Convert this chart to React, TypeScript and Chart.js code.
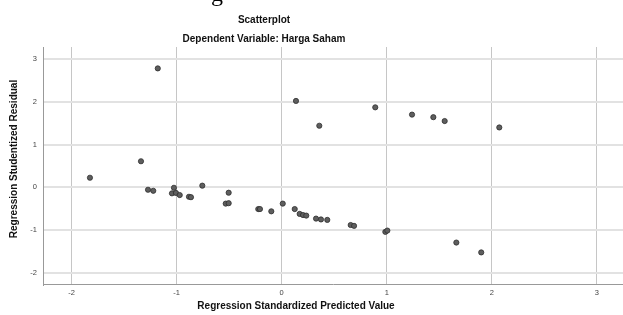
import React, { useEffect, useRef } from "react";
import { Chart, registerables } from "chart.js";

Chart.register(...registerables);

const predicted = [
  -1.826, -1.34, -1.273, -1.223, -1.18, -1.045, -1.026, -1.007, -0.971, -0.883,
  -0.864, -0.756, -0.533, -0.505, -0.505, -0.223, -0.207, -0.099, 0.01, 0.124,
  0.136, 0.171, 0.203, 0.234, 0.327, 0.358, 0.374, 0.434, 0.657, 0.689,
  0.891, 0.987, 1.006, 1.241, 1.444, 1.552, 1.663, 1.9, 2.072,
];
const residual = [
  0.225, 0.61, -0.056, -0.08, 2.78, -0.14, -0.01, -0.13, -0.18, -0.22,
  -0.23, 0.04, -0.38, -0.37, -0.125, -0.507, -0.507, -0.56, -0.38, -0.507,
  2.02, -0.62, -0.647, -0.66, -0.73, 1.44, -0.75, -0.76, -0.88, -0.9,
  1.87, -1.04, -1.01, 1.7, 1.64, 1.55, -1.29, -1.52, 1.4,
];
const xTicks = [-2, -1, 0, 1, 2, 3];
const yTicks = [-2, -1, 0, 1, 2, 3];
const xRange = [-2.273, 3.25];
const yRange = [-2.27, 3.28];

const titleText = "Scatterplot";
const subtitleText = "Dependent Variable: Harga Saham";
const xTitle = "Regression Standardized Predicted Value";
const yTitle = "Regression Studentized Residual";
const croppedGlyph = "g";

const FONT = "'Liberation Sans', Arial, sans-serif";

export default function App() {
  const ref = useRef<HTMLCanvasElement>(null);

  useEffect(() => {
    document.body.style.margin = "0";
    const canvas = ref.current;
    if (!canvas) return;

    const titlesPlugin = {
      id: "titles",
      afterDraw(chart: any) {
        const ctx = chart.ctx;
        ctx.save();
        ctx.fillStyle = "#111";
        ctx.textAlign = "center";
        ctx.textBaseline = "middle";
        ctx.font = `bold 10px ${FONT}`;
        ctx.fillText(titleText, 264, 20);
        ctx.fillText(subtitleText, 264, 39.5);
        ctx.fillText(xTitle, 296, 306);
        ctx.save();
        ctx.translate(14, 159);
        ctx.rotate(-Math.PI / 2);
        ctx.fillText(yTitle, 0, 0);
        ctx.restore();
        ctx.fillStyle = "#000";
        ctx.textBaseline = "alphabetic";
        ctx.font = "24px 'Liberation Serif', 'Times New Roman', serif";
        ctx.fillText(croppedGlyph, 217, 0.5);
        ctx.restore();
      },
    };

    const data = predicted.map((x, i) => ({ x, y: residual[i] }));

    const chart = new Chart(canvas, {
      type: "scatter",
      data: {
        datasets: [
          {
            data,
            pointRadius: 2.6,
            pointBackgroundColor: "#5e5e5e",
            pointBorderColor: "#2e2e2e",
            pointBorderWidth: 0.8,
          },
        ],
      },
      options: {
        responsive: false,
        animation: false,
        layout: { padding: { top: 47, left: 0, right: 0, bottom: 0 }, autoPadding: false },
        plugins: {
          legend: { display: false },
          tooltip: { enabled: false },
          title: { display: false },
        },
        scales: {
          x: {
            type: "linear",
            min: xRange[0],
            max: xRange[1],
            afterBuildTicks: (s: any) => {
              s.ticks = xTicks.map((v) => ({ value: v }));
            },
            afterFit: (s: any) => {
              s.height = 30.5;
            },
            grid: { color: "#c6c6c6", lineWidth: 1, drawTicks: false },
            border: { color: "#999", width: 1 },
            ticks: {
              font: { size: 7.5, family: FONT },
              color: "#444",
              padding: 4,
              maxRotation: 0,
              callback: (v: any) => String(v),
            },
          },
          y: {
            type: "linear",
            min: yRange[0],
            max: yRange[1],
            afterBuildTicks: (s: any) => {
              s.ticks = yTicks.map((v) => ({ value: v }));
            },
            afterFit: (s: any) => {
              s.width = 43;
            },
            grid: { color: "#e2e2e2", lineWidth: 2, drawTicks: false },
            border: { color: "#999", width: 1 },
            ticks: {
              font: { size: 7.5, family: FONT },
              color: "#444",
              padding: 6,
              callback: (v: any) => String(v),
            },
          },
        },
      },
      plugins: [titlesPlugin],
    });

    return () => chart.destroy();
  }, []);

  return (
    <div style={{ position: "fixed", left: 0, top: 0, width: 623, height: 315, background: "#fff" }}>
      <canvas ref={ref} width={623} height={315} style={{ display: "block" }} />
    </div>
  );
}
